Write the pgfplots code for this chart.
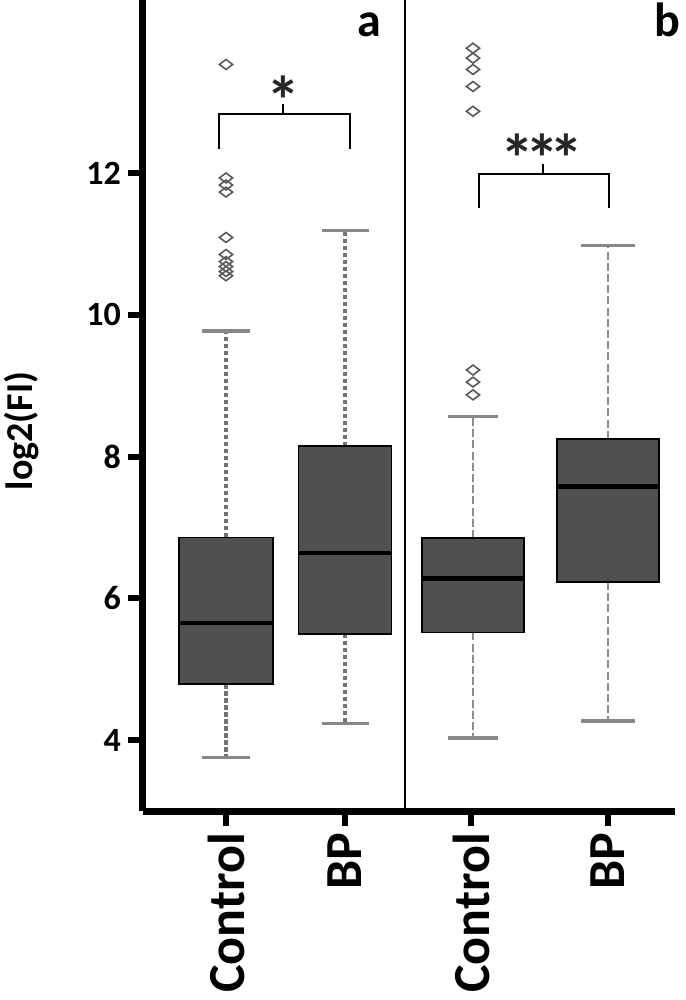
\documentclass[border=0pt]{standalone}
\usepackage{pgfplots}
\pgfplotsset{compat=1.18}
\usepgfplotslibrary{statistics}
\usepackage{fontspec}
\setmainfont{Carlito}
\definecolor{boxgray}{RGB}{80,80,80}
\definecolor{capgray}{RGB}{135,135,135}

\tikzset{capline/.style={capgray, line width=1.6pt, solid}}
\pgfplotsset{
  boxplot/draw/lower whisker/.code={%
    \draw[/pgfplots/boxplot/every whisker/.try]
      (boxplot box cs:\pgfplotsboxplotvalue{lower quartile},0.5) --
      (boxplot box cs:\pgfplotsboxplotvalue{lower whisker},0.5);
    \draw[capline]
      (boxplot whisker cs:\pgfplotsboxplotvalue{lower whisker},0) --
      (boxplot whisker cs:\pgfplotsboxplotvalue{lower whisker},1);
  },
  boxplot/draw/upper whisker/.code={%
    \draw[/pgfplots/boxplot/every whisker/.try]
      (boxplot box cs:\pgfplotsboxplotvalue{upper quartile},0.5) --
      (boxplot box cs:\pgfplotsboxplotvalue{upper whisker},0.5);
    \draw[capline]
      (boxplot whisker cs:\pgfplotsboxplotvalue{upper whisker},0) --
      (boxplot whisker cs:\pgfplotsboxplotvalue{upper whisker},1);
  },
  boxplot/every box/.style={fill=boxgray, draw=black, line width=0.8pt},
  boxplot/every median/.style={black, line width=2.2pt},
  wa/.style={boxplot/every whisker/.style={black!55, line width=2pt, dash pattern=on 2.2pt off 1.3pt}},
  wb/.style={boxplot/every whisker/.style={black!45, line width=0.75pt, dash pattern=on 4pt off 1.6pt}},
  outl/.style={mark=diamond, mark size=3.3pt, mark options={rotate=90, draw=black!65, fill=white, line width=0.8pt, solid}},
}

\begin{document}
\begin{tikzpicture}
\begin{axis}[
  name=A,
  scale only axis, width=266pt, height=405.5pt,
  xmin=1.43, xmax=6.75, ymin=3, ymax=14.44,
  clip=false,
  boxplot/draw direction=y,
  axis x line=bottom, axis y line=left,
  axis line style={line width=3.5pt, -},
  tick align=outside,
  major tick length=7.5pt,
  tick style={black, line width=3pt},
  ytick={4,6,8,10,12},
  xtick={2.26,3.45,4.71,6.08},
  xticklabels={Control,BP,Control,BP},
  /pgf/number format/assume math mode=true,
  yticklabel style={font=\bfseries\fontsize{17}{17}\selectfont},
  xticklabel style={font=\bfseries\fontsize{26}{26}\selectfont, rotate=90, anchor=east},
  ylabel={log2(FI)},
  ylabel style={font=\bfseries\fontsize{19}{19}\selectfont, at={(rel axis cs:-0.229,0.4686)}, anchor=center},
]
% panel divider
\addplot[black, line width=1pt] coordinates {(4.05,3) (4.05,14.44)};

% panel a
\addplot[wa, outl, boxplot prepared={draw position=2.26, box extend=0.94, whisker extend=0.47,
  lower whisker=3.75, lower quartile=4.79, median=5.65, upper quartile=6.86, upper whisker=9.77}]
  table[row sep=\\, y index=0] {13.53\\ 11.93\\ 11.83\\ 11.73\\ 11.09\\ 10.85\\ 10.75\\ 10.68\\ 10.61\\ 10.55\\};
\addplot[wa, outl, boxplot prepared={draw position=3.45, box extend=0.93, whisker extend=0.47,
  lower whisker=4.23, lower quartile=5.50, median=6.64, upper quartile=8.15, upper whisker=11.19}]
  coordinates {};

% panel b
\addplot[wb, outl, boxplot prepared={draw position=4.73, box extend=1.02, whisker extend=0.50,
  lower whisker=4.03, lower quartile=5.52, median=6.28, upper quartile=6.85, upper whisker=8.56}]
  table[row sep=\\, y index=0] {13.76\\ 13.62\\ 13.46\\ 13.22\\ 12.87\\ 9.22\\ 9.05\\ 8.87\\};
\addplot[wb, outl, boxplot prepared={draw position=6.08, box extend=1.02, whisker extend=0.54,
  lower whisker=4.27, lower quartile=6.23, median=7.58, upper quartile=8.25, upper whisker=10.98}]
  coordinates {};

% significance brackets
\addplot[black, line width=1pt] coordinates {(2.19,12.34) (2.19,12.83) (3.50,12.83) (3.50,12.34)};
\addplot[black, line width=1pt] coordinates {(2.83,12.83) (2.83,12.97)};
\addplot[black, line width=1pt] coordinates {(4.79,11.50) (4.79,11.98) (6.09,11.98) (6.09,11.50)};
\addplot[black, line width=1pt] coordinates {(5.43,11.98) (5.43,12.12)};
\node[font=\bfseries\fontsize{34}{34}\selectfont, anchor=base, black!85] at (axis cs:2.83,12.69) {*};
\node[font=\bfseries\fontsize{34}{34}\selectfont, anchor=base, black!85] at (axis cs:5.42,11.86) {*\kern-4.5pt*\kern-4.5pt*};

% panel letters
\node[font=\bfseries\fontsize{24}{24}\selectfont, anchor=base] at (axis cs:3.69,13.93) {a};
\node[font=\bfseries\fontsize{24}{24}\selectfont, anchor=base] at (axis cs:6.67,13.92) {b};
\end{axis}
\pgfresetboundingbox
\path ([xshift=-71.5pt,yshift=-94.5pt]A.south west) rectangle ([xshift=5pt]A.north east);
\end{tikzpicture}
\end{document}
